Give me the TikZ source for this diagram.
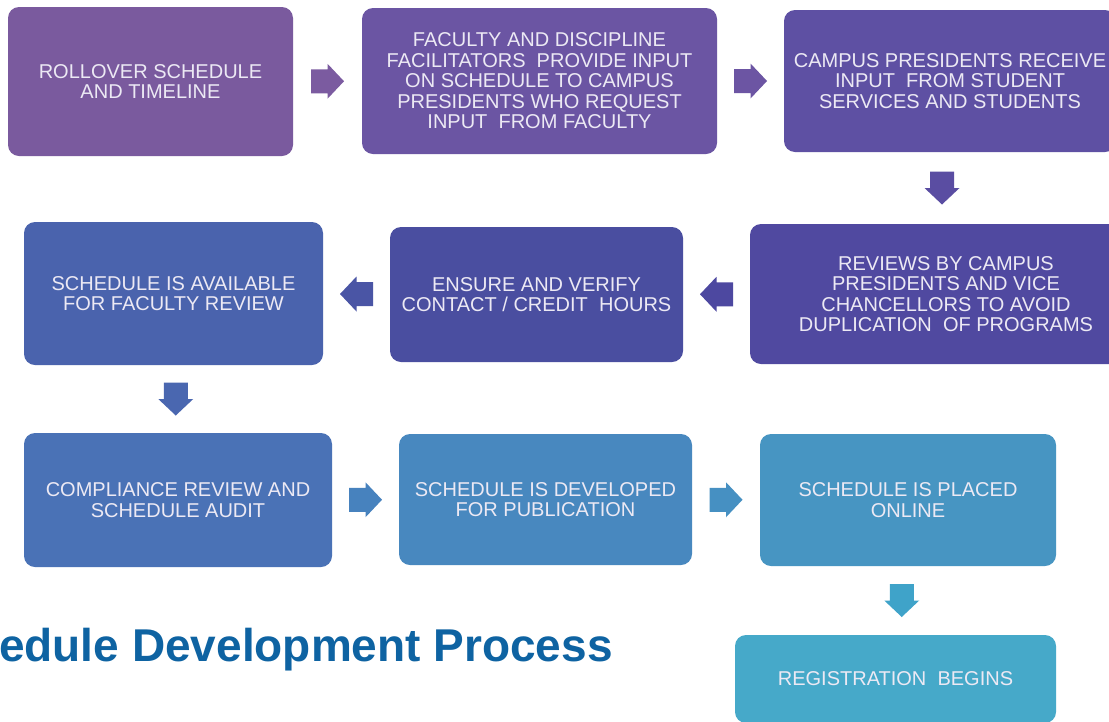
\documentclass[tikz,border=0pt]{standalone}
\usepackage{fontspec}
\setmainfont{Liberation Sans}
\usetikzlibrary{calc}
\definecolor{c1}{HTML}{7A5A9E}
\definecolor{c2}{HTML}{6B55A3}
\definecolor{c3}{HTML}{5E50A3}
\definecolor{c4}{HTML}{5049A0}
\definecolor{c5}{HTML}{4A4EA0}
\definecolor{c6}{HTML}{4A63AD}
\definecolor{c7}{HTML}{4A72B6}
\definecolor{c8}{HTML}{4888BF}
\definecolor{c9}{HTML}{4795C2}
\definecolor{c10}{HTML}{46A9C9}
\definecolor{a1}{HTML}{7B5BA0}
\definecolor{a2}{HTML}{6C55A3}
\definecolor{a3}{HTML}{5A4DA2}
\definecolor{a4}{HTML}{4D48A0}
\definecolor{a5}{HTML}{4A55A5}
\definecolor{a6}{HTML}{4A67B0}
\definecolor{a7}{HTML}{4782BE}
\definecolor{a8}{HTML}{4690C2}
\definecolor{a9}{HTML}{3FA3C9}
\definecolor{boxtext}{HTML}{ECE9F4}
\definecolor{titleblue}{HTML}{0E63A2}
\tikzset{
  box/.style={rectangle, rounded corners=11pt, draw=none, text=boxtext,
    align=center, inner sep=0pt, font=\fontsize{20}{20.5}\selectfont},
  blockarrow/.pic={
    \fill[pic actions] (-16.5,-12) -- (0,-12) -- (0,-17.5) -- (16.5,0)
      -- (0,17.5) -- (0,12) -- (-16.5,12) -- cycle;
  }
}
\begin{document}
\begin{tikzpicture}[x=1pt,y=-1pt]
\useasboundingbox (0,0) rectangle (1109,721);
\clip (0,0) rectangle (1109,721);
\fill[white] (0,0) rectangle (1109,721);

% row 1
\node[box, fill=c1, minimum width=285pt, minimum height=149pt] (b1) at (150.5,81.5)
  {ROLLOVER SCHEDULE\\AND TIMELINE};
\node[box, fill=c2, minimum width=355pt, minimum height=146pt] (b2) at (539.5,81)
  {FACULTY AND DISCIPLINE\\FACILITATORS\ \ PROVIDE INPUT\\ON SCHEDULE TO CAMPUS\\PRESIDENTS WHO REQUEST\\INPUT\ \ FROM FACULTY};
\node[box, fill=c3, minimum width=332pt, minimum height=142pt] (b3) at (950,81)
  {CAMPUS PRESIDENTS RECEIVE\\INPUT\ \ FROM STUDENT\\SERVICES AND STUDENTS};

% row 2
\node[box, fill=c4, minimum width=392pt, minimum height=140pt] (b4) at (946,294)
  {REVIEWS BY CAMPUS\\PRESIDENTS AND VICE\\CHANCELLORS TO AVOID\\DUPLICATION\ \ OF PROGRAMS};
\node[box, fill=c5, minimum width=293pt, minimum height=135pt] (b5) at (536.5,294.5)
  {ENSURE AND VERIFY\\CONTACT / CREDIT\ \ HOURS};
\node[box, fill=c6, minimum width=299pt, minimum height=143pt] (b6) at (173.5,293.5)
  {SCHEDULE IS AVAILABLE\\FOR FACULTY REVIEW};

% row 3
\node[box, fill=c7, minimum width=308pt, minimum height=134pt] (b7) at (178,500)
  {COMPLIANCE REVIEW AND\\SCHEDULE AUDIT};
\node[box, fill=c8, minimum width=293pt, minimum height=131pt] (b8) at (545.5,499.5)
  {SCHEDULE IS DEVELOPED\\FOR PUBLICATION};
\node[box, fill=c9, minimum width=296pt, minimum height=132pt] (b9) at (908,500)
  {SCHEDULE IS PLACED\\ONLINE};
\node[box, fill=c10, minimum width=321pt, minimum height=88pt] (b10) at (895.5,679)
  {REGISTRATION\ \ BEGINS};

% block arrows
\path ($(b1.east)!0.5!(b2.west)$) pic[fill=a1] {blockarrow};
\path ($(b2.east)!0.5!(b3.west)$) pic[fill=a2] {blockarrow};
\path ($(b3.south)!0.5!(b4.north)$) pic[xshift=-6pt, rotate=-90, fill=a3] {blockarrow};
\path ($(b4.west)!0.5!(b5.east)$) pic[rotate=180, fill=a4] {blockarrow};
\path ($(b5.west)!0.5!(b6.east)$) pic[rotate=180, fill=a5] {blockarrow};
\path ($(b6.south)!0.5!(b7.north)$) pic[rotate=-90, fill=a6] {blockarrow};
\path ($(b7.east)!0.5!(b8.west)$) pic[fill=a7] {blockarrow};
\path ($(b8.east)!0.5!(b9.west)$) pic[fill=a8] {blockarrow};
\path ($(b9.south)!0.5!(b10.north)$) pic[rotate=-90, fill=a9] {blockarrow};

% title
\node[anchor=base west, inner sep=0pt, text=titleblue,
  font=\fontsize{46}{50}\selectfont\bfseries] (title) at (-1,661)
  {edule Development Process};
\end{tikzpicture}
\end{document}
